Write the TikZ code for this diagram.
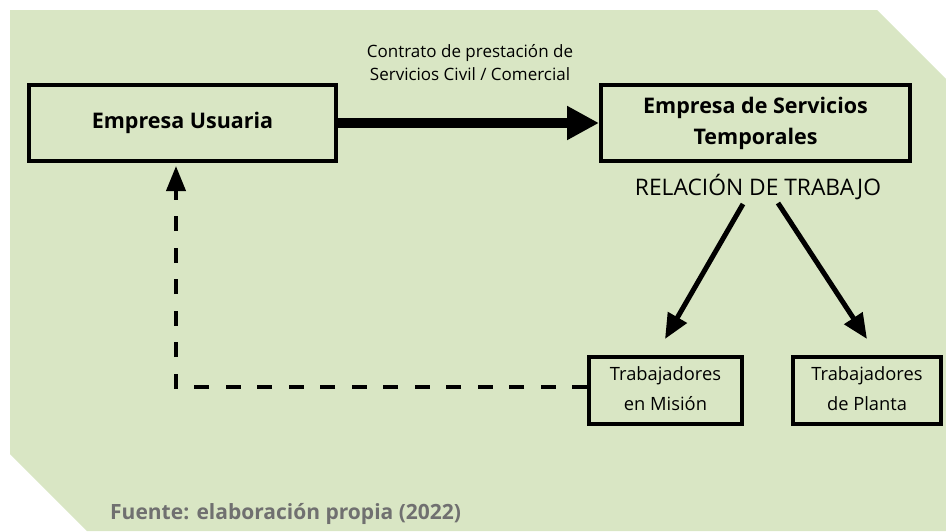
\documentclass[tikz,border=0pt]{standalone}
\usepackage{fontspec}
\setmainfont{Open Sans}
\usetikzlibrary{arrows.meta}
\definecolor{bgc}{RGB}{217,230,196}
\definecolor{srcgray}{RGB}{112,112,112}
\tikzset{
  box/.style={draw=black, line width=4pt, rectangle, inner sep=0pt, align=center},
  bigbox/.style={box, font=\bfseries\fontsize{21.5}{31}\selectfont},
  smallbox/.style={box, font=\fontsize{18.3}{30}\selectfont},
  thickarrow/.style={line width=10pt, -{Triangle[length=32pt,width=32pt]}},
  relarrow/.style={line width=5pt, -{Triangle[length=25pt,width=21pt]}},
  dasharrow/.style={line width=4pt, dash pattern=on 15pt off 16.5pt, -{Triangle[length=25pt,width=19pt]}}
}
\begin{document}
\begin{tikzpicture}[x=1pt,y=-1pt]
\useasboundingbox (0,0) rectangle (946,531);
\fill[bgc] (10,10) -- (877,10) -- (946,79) -- (946,531) -- (87,531) -- (10,454) -- cycle;

\node[bigbox, minimum width=307pt, minimum height=76pt] (eu) at (182.5,123) {Empresa Usuaria};
\node[bigbox, minimum width=309pt, minimum height=76pt] (est) at (755.5,123) {Empresa de Servicios\\Temporales};
\node[smallbox, minimum width=153pt, minimum height=67pt] (tm) at (665.5,390.5) {Trabajadores\\en Misión\vphantom{g}};
\node[smallbox, minimum width=148pt, minimum height=67pt] (tp) at (867,390.5) {Trabajadores\\de Planta\vphantom{g}};

\node[align=center, font=\fontsize{17}{23}\selectfont] (contrato) at (470,63) {Contrato de prestación de\\Servicios Civil / Comercial};
\node[font=\fontsize{22.8}{26}\selectfont] (rel) at (758,187) {RELACIÓN DE TRABAJO};
\node[anchor=base west, font=\bfseries\fontsize{21}{25}\selectfont, text=srcgray, inner sep=0pt] (src) at (110,519) {Fuente: elaboración propia (2022)};

\draw[thickarrow] (eu.east) -- (est.west);

\coordinate (l1) at (743,204);
\coordinate (l2) at (665,339);
\coordinate (r1) at (778,203);
\coordinate (r2) at (867,339);
\draw[relarrow] (l1) -- (l2);
\draw[relarrow] (r1) -- (r2);

\coordinate (corner) at (176,387);
\coordinate (dtip) at (176,166);
\draw[dasharrow] (corner -| tm.west) -- (corner) -- (dtip);
\end{tikzpicture}
\end{document}
